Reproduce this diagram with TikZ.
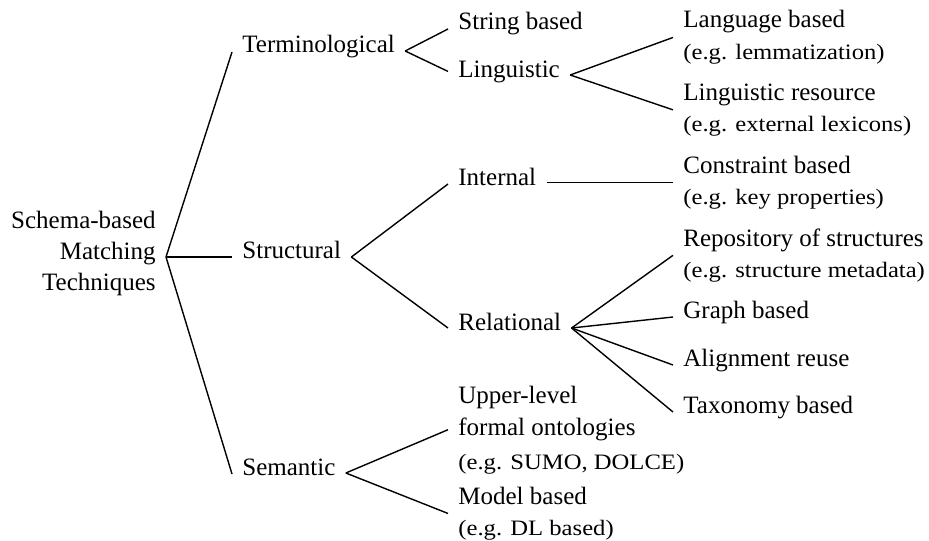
\documentclass[tikz,border=0pt]{standalone}
\usepackage{fontspec}
\setmainfont{Liberation Serif}
\newfontfamily\egfamily[FakeStretch=1.12]{Liberation Serif}
% smaller text for the example lines
\newcommand\egtext{\egfamily\fontsize{11pt}{13pt}\selectfont}
% a technique with one example line below it
\newcommand\leafpair[2]{\vtop{\baselineskip=15.75pt\hbox{#1}\hbox{\egtext #2}}}
% a two-line technique with one example line below it
\newcommand\leaftriple[3]{\vtop{\baselineskip=16pt\hbox{#1}\hbox{#2}\baselineskip=17pt\hbox{\egtext #3}}}
% right-aligned three-line title
\newcommand\rootstack[3]{\vtop{\baselineskip=15.5pt\halign{\hfil##\cr#1\cr#2\cr#3\cr}}}

\begin{document}
\begin{tikzpicture}[x=0.5pt,y=-0.5pt,
  every node/.style={inner xsep=5pt,inner ysep=0pt,
    font=\fontsize{12.5pt}{15.5pt}\selectfont},
  item/.style={anchor=base west},
  branch/.style={line width=0.7pt,line join=round}]
\useasboundingbox (0,0) rectangle (929,540);

% root
\node[anchor=base east] (root) at (166,228) {\rootstack{Schema-based}{Matching}{Techniques}};

% first level
\node[item] (term)  at (232,53)  {Terminological};
\node[item] (struc) at (232,258) {Structural};
\node[item] (seman) at (232,475) {Semantic};

% terminological branch
\node[item] (strb) at (448,30) {String based};
\node[item] (ling) at (448,77) {Linguistic};
\node[item] (lang) at (673,28)  {\leafpair{Language based}{(e.g. lemmatization)}};
\node[item] (lres) at (673,100) {\leafpair{Linguistic resource}{(e.g. external lexicons)}};

% structural branch
\node[item] (intl)  at (448,185) {Internal};
\node[item] (rel)   at (448,330) {Relational};
\node[item] (cons)  at (673,173) {\leafpair{Constraint based}{(e.g. key properties)}};
\node[item] (repo)  at (673,246) {\leafpair{Repository of structures}{(e.g. structure metadata)}};
\node[item] (graph) at (673,318) {Graph based};
\node[item] (reuse) at (673,366) {Alignment reuse};
\node[item] (taxo)  at (673,413) {Taxonomy based};

% semantic branch
\node[item] (upper) at (448,403) {\leaftriple{Upper-level}{formal ontologies}{(e.g. SUMO, DOLCE)}};
\node[item] (model) at (448,504) {\leafpair{Model based}{(e.g. DL based)}};

% branching points
\coordinate (j0) at ([yshift=.5pt]struc.base west -| root.east);
\coordinate (tj) at ([yshift=1pt]term.base east);
\coordinate (lj) at ([yshift=1pt]ling.base east);
\coordinate (sj) at ([yshift=.5pt]struc.base east);
\coordinate (rj) at ([yshift=1pt]rel.base east);
\coordinate (mj) at ([yshift=1pt]seman.base east);

% connectors
\draw[branch] (j0) -- ([yshift=.5pt]term.base west);
\draw[branch] (j0) -- ([yshift=.5pt]struc.base west);
\draw[branch] (j0) -- ([yshift=.5pt]seman.base west);

\draw[branch] (tj) -- ([yshift=.5pt]strb.base west);
\draw[branch] (tj) -- (ling.west);
\draw[branch] (lj) -- (lang.west);
\draw[branch] (lj) -- (lres.west);

\draw[branch] (sj) -- ([yshift=.5pt]intl.base west);
\draw[branch] (sj) -- ([yshift=1pt]rel.base west);
\draw[branch] (cons.west -| intl.east) -- (cons.west);
\draw[branch] (rj) -- (repo.west);
\draw[branch] (rj) -- ([yshift=.5pt]graph.base west);
\draw[branch] (rj) -- ([yshift=.5pt]reuse.base west);
\draw[branch] (rj) -- ([yshift=.5pt]taxo.base west);

\draw[branch] (mj) -- (upper.west);
\draw[branch] (mj) -- (model.west);
\end{tikzpicture}
\end{document}
